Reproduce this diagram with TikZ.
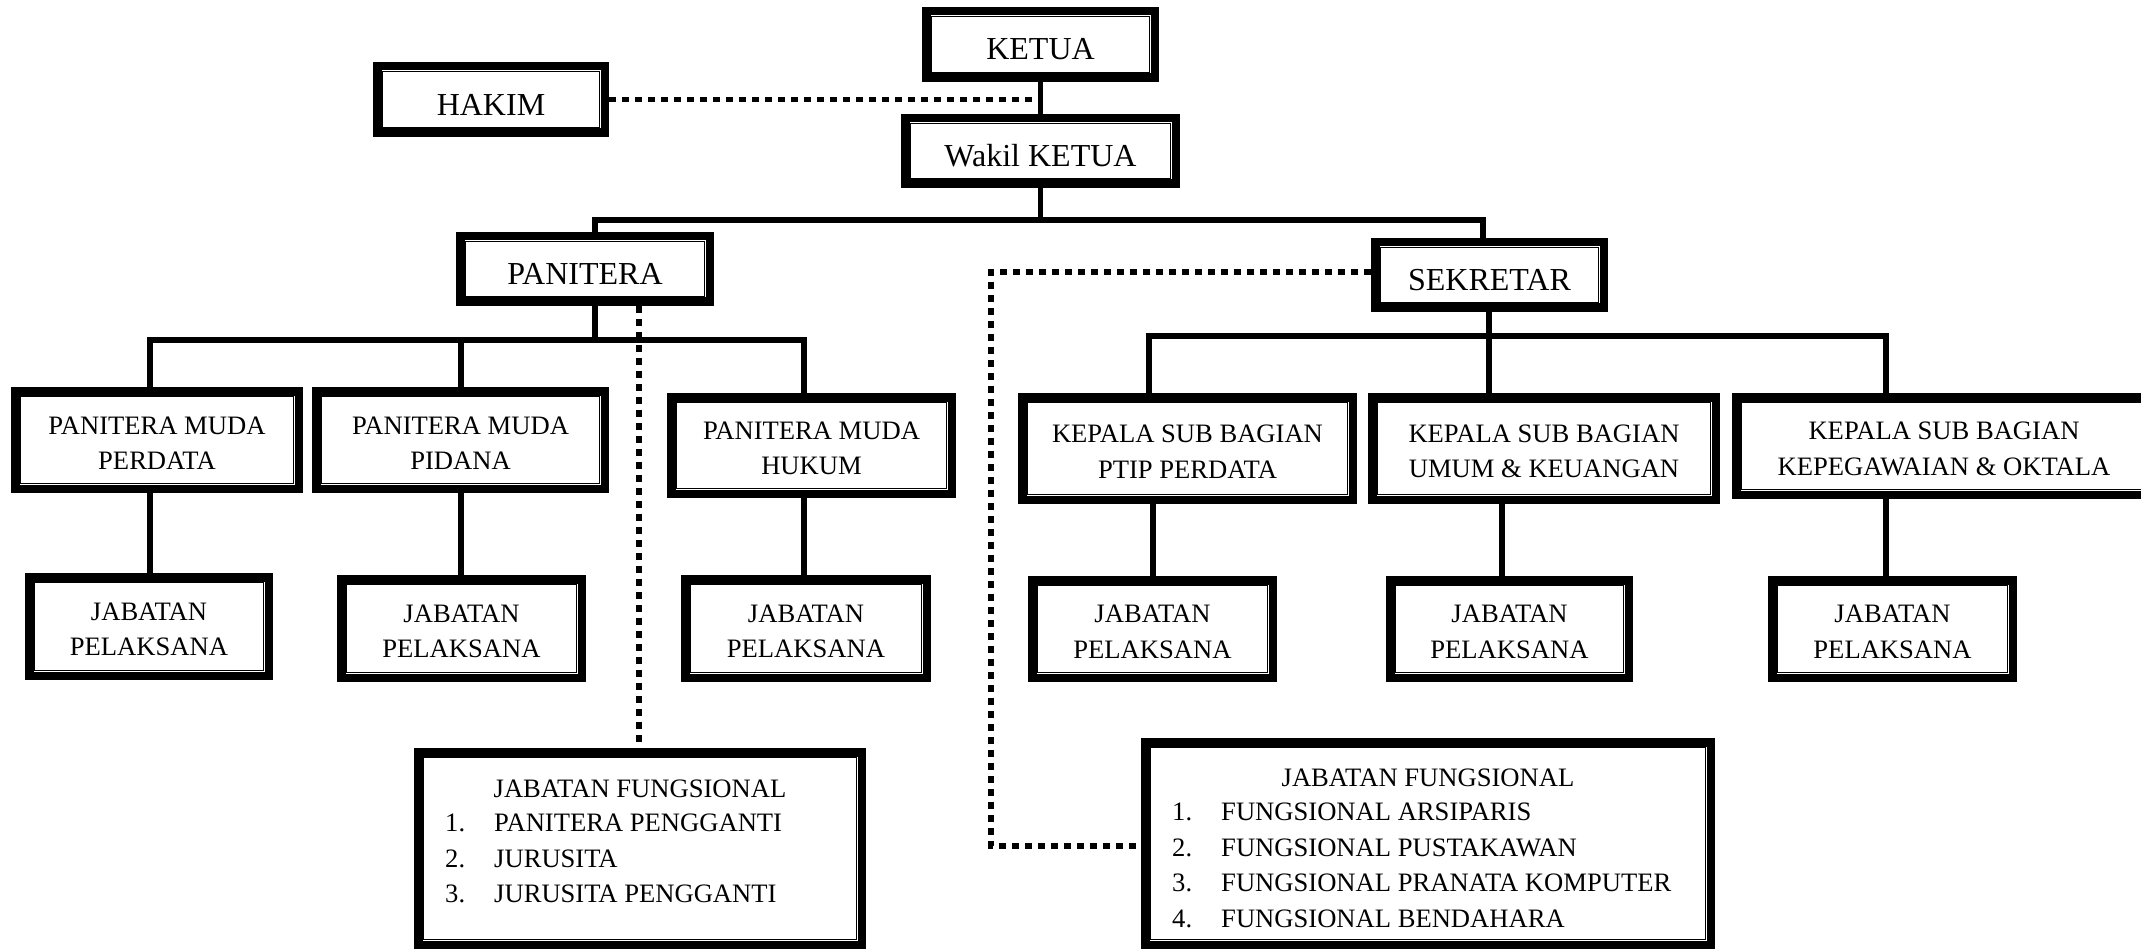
\documentclass[tikz,border=0pt]{standalone}
\usepackage{fontspec}
\setmainfont{Liberation Serif}
\tikzset{
  obox/.style={rectangle, draw=black, line width=8.5pt, fill=white, inner sep=0pt},
  thinA/.style={line width=2pt},
  thinB/.style={line width=1.3pt},
  btext/.style={inner sep=0pt, align=center},
  topf/.style={font=\fontsize{32}{38}\selectfont, yshift=-5pt},
  lowf/.style={font=\fontsize{26.6}{35.5}\selectfont, yshift=-3pt},
  conn/.style={line width=5.5pt},
  dotc/.style={line width=5.5pt, dash pattern=on 7pt off 6pt},
  jftext/.style={font=\fontsize{26.6}{35.5}\selectfont, inner sep=0pt}
}
% #1 text style, #2 name, #3 x1, #4 y1, #5 x2, #6 y2, #7 text
\newcommand\orgbox[7][]{%
  \node[obox, minimum width={#5-#3-8.5}, minimum height={#6-#4-8.5}] (#2) at ({(#3+#5)/2},{(#4+#6)/2}) {};
  \draw[thinA] ([shift={(6.6,6.6)}]#2.north west) rectangle ([shift={(-6.6,-6.6)}]#2.south east);
  \draw[thinB] ([shift={(9.6,9.6)}]#2.north west) rectangle ([shift={(-9.6,-9.6)}]#2.south east);
  \node[btext,#1] (#2t) at (#2.center) {#7};
}
\begin{document}
\begin{tikzpicture}[x=1pt,y=-1pt]
\fill[white] (0,0) rectangle (2141,949);
\useasboundingbox (0,0) rectangle (2141,949);

% bus coordinates
\coordinate (bA) at (595,220);
\coordinate (bB) at (1483,220);
\coordinate (pA) at (150,340);
\coordinate (pC) at (461,340);
\coordinate (pB) at (804,340);
\coordinate (sA) at (1149,336);
\coordinate (sB) at (1489,336);
\coordinate (sC) at (1886,336);
\coordinate (kA) at (1153,0);
\coordinate (kB) at (1502,0);
\coordinate (kC) at (1886,0);
\coordinate (dP) at (639,0);
\coordinate (dS) at (991,272);
\coordinate (dS2) at (991,846);

% boxes
\orgbox[topf]{ketua}{922}{7}{1159}{82}{KETUA}
\orgbox[topf]{hakim}{373}{62}{609}{137}{HAKIM}
\orgbox[topf]{wakil}{901}{114}{1180}{188}{Wakil KETUA}
\orgbox[topf]{panitera}{456}{232}{714}{306}{PANITERA}
\orgbox[topf]{sekretar}{1371}{238}{1608}{312}{SEKRETAR}
\orgbox[lowf]{pmperdata}{11}{387}{303}{493}{PANITERA MUDA\\PERDATA}
\orgbox[lowf]{pmpidana}{312}{387}{609}{493}{PANITERA MUDA\\PIDANA}
\orgbox[lowf]{pmhukum}{667}{393}{956}{498}{PANITERA MUDA\\HUKUM}
\orgbox[lowf]{ksb1}{1018}{393}{1357}{504}{KEPALA SUB BAGIAN\\PTIP PERDATA}
\orgbox[lowf]{ksb2}{1368}{393}{1720}{504}{KEPALA SUB BAGIAN\\UMUM \& KEUANGAN}
\orgbox[lowf]{ksb3}{1732}{393}{2156}{499}{KEPALA SUB BAGIAN\\KEPEGAWAIAN \& OKTALA}
\orgbox[lowf]{jp1}{25}{573}{273}{680}{JABATAN\\PELAKSANA}
\orgbox[lowf]{jp2}{337}{575}{586}{682}{JABATAN\\PELAKSANA}
\orgbox[lowf]{jp3}{681}{575}{931}{682}{JABATAN\\PELAKSANA}
\orgbox[lowf]{jp4}{1028}{576}{1277}{682}{JABATAN\\PELAKSANA}
\orgbox[lowf]{jp5}{1386}{576}{1633}{682}{JABATAN\\PELAKSANA}
\orgbox[lowf]{jp6}{1768}{576}{2017}{682}{JABATAN\\PELAKSANA}
\orgbox{jf1}{414}{748}{866}{949}{}
\orgbox{jf2}{1141}{738}{1715}{949}{}

% connectors
\draw[conn] (ketua.south) -- (wakil.north);
\draw[dotc] (hakim.east) -- (hakim.east -| ketua.south);
\draw[conn] (wakil.south) -- (wakil.south |- bA);
\draw[conn] (bA |- panitera.north) -- (bA) -- (bB) -- (bB |- sekretar.north);
\draw[conn] (bA |- panitera.south) -- (bA |- pA);
\draw[conn] (pA |- pmperdata.north) -- (pA) -- (pB) -- (pB |- pmhukum.north);
\draw[conn] (pC) -- (pC |- pmpidana.north);
\draw[conn] (pA |- pmperdata.south) -- (pA |- jp1.north);
\draw[conn] (pC |- pmpidana.south) -- (pC |- jp2.north);
\draw[conn] (pB |- pmhukum.south) -- (pB |- jp3.north);
\draw[conn] (sB |- sekretar.south) -- (sB);
\draw[conn] (sA |- ksb1.north) -- (sA) -- (sC) -- (sC |- ksb3.north);
\draw[conn] (sB) -- (sB |- ksb2.north);
\draw[conn] (kA |- ksb1.south) -- (kA |- jp4.north);
\draw[conn] (kB |- ksb2.south) -- (kB |- jp5.north);
\draw[conn] (kC |- ksb3.south) -- (kC |- jp6.north);
\draw[dotc] (dP |- panitera.south) -- (dP |- jf1.north);
\draw[dotc] (sekretar.west |- dS) -- (dS) -- (dS2) -- (dS2 -| jf2.west);

% JF1 text
\node[jftext, anchor=base] (jf1t) at (640,797) {JABATAN FUNGSIONAL};
\node[jftext, anchor=base west] (jf1n1) at (445,831) {1.};
\node[jftext, anchor=base west] (jf1i1) at (494,831) {PANITERA PENGGANTI};
\node[jftext, anchor=base west] (jf1n2) at (445,867) {2.};
\node[jftext, anchor=base west] (jf1i2) at (494,867) {JURUSITA};
\node[jftext, anchor=base west] (jf1n3) at (445,902) {3.};
\node[jftext, anchor=base west] (jf1i3) at (494,902) {JURUSITA PENGGANTI};

% JF2 text
\node[jftext, anchor=base] (jf2t) at (1428,786) {JABATAN FUNGSIONAL};
\node[jftext, anchor=base west] (jf2n1) at (1172,820) {1.};
\node[jftext, anchor=base west] (jf2i1) at (1221,820) {FUNGSIONAL ARSIPARIS};
\node[jftext, anchor=base west] (jf2n2) at (1172,856) {2.};
\node[jftext, anchor=base west] (jf2i2) at (1221,856) {FUNGSIONAL PUSTAKAWAN};
\node[jftext, anchor=base west] (jf2n3) at (1172,891) {3.};
\node[jftext, anchor=base west] (jf2i3) at (1221,891) {FUNGSIONAL PRANATA KOMPUTER};
\node[jftext, anchor=base west] (jf2n4) at (1172,927) {4.};
\node[jftext, anchor=base west] (jf2i4) at (1221,927) {FUNGSIONAL BENDAHARA};
\end{tikzpicture}
\end{document}
